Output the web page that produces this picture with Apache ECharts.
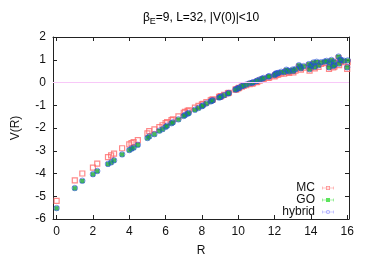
<!DOCTYPE html>
<html>
<head>
<meta charset="utf-8">
<script src="https://cdn.jsdelivr.net/npm/echarts@6/dist/echarts.min.js"></script>
<style>html,body{margin:0;padding:0;background:#fff}#c{width:374px;height:262px}</style>
</head>
<body>
<div id="c"></div>
<script>
const R = [0,1,1.414,2,2.236,2.828,3,3.162,3.606,4,
4.123,4.243,4.472,5,5.099,5.385,5.657,5.831,6,6.083,
6.325,6.403,6.708,7,7.071,7.211,7.280,7.616,7.810,8,
8.062,8.246,8.485,8.544,8.602,8.944,9,9.055,9.220,9.434,
9.487,9.849,9.899,10,10.050,10.198,10.296,10.440,10.630,10.770,
10.817,11,11.045,11.180,11.314,11.402,11.662,11.705,12,12.042,
12.083,12.166,12.207,12.369,12.530,12.649,12.728,12.806,13,13.038,
13.153,13.342,13.416,13.454,13.601,13.892,13.928,14,14.036,14.142,
14.213,14.318,14.422,14.560,14.765,14.866,15,15.033,15.133,15.232,
15.264,15.297,15.524,15.556,15.620,15.652,15.811,16,16.031];

const MC = [-5.20,-4.30,-4.00,-3.74,-3.57,-3.28,-3.20,-3.13,-2.89,-2.72,
-2.66,-2.62,-2.53,-2.24,-2.14,-2.06,-1.96,-1.88,-1.79,-1.74,
-1.65,-1.62,-1.49,-1.33,-1.29,-1.25,-1.22,-1.10,-1.03,-0.96,
-0.94,-0.86,-0.78,-0.76,-0.74,-0.63,-0.62,-0.60,-0.54,-0.47,
-0.45,-0.31,-0.30,-0.26,-0.24,-0.18,-0.15,-0.12,-0.07,-0.05,
-0.03,0.01,0.03,0.08,0.12,0.15,0.20,0.22,0.27,0.31,
0.34,0.35,0.36,0.40,0.39,0.49,0.46,0.42,0.50,0.44,
0.52,0.69,0.62,0.56,0.65,0.74,0.52,0.66,0.70,0.81,
0.62,0.84,0.69,0.82,0.85,0.88,0.60,0.81,0.92,0.66,
0.84,0.70,1.07,0.76,0.94,0.92,0.89,0.60,0.90];

const GO = [-5.53,-4.65,-4.33,-4.04,-3.90,-3.59,-3.52,-3.43,-3.17,-2.98,
-2.92,-2.87,-2.75,-2.45,-2.38,-2.28,-2.13,-2.06,-1.96,-1.91,
-1.80,-1.76,-1.63,-1.48,-1.44,-1.38,-1.35,-1.21,-1.13,-1.05,
-1.02,-0.93,-0.84,-0.81,-0.79,-0.67,-0.65,-0.63,-0.57,-0.49,
-0.47,-0.32,-0.30,-0.26,-0.24,-0.17,-0.14,-0.10,-0.04,-0.02,
0.00,0.05,0.07,0.12,0.16,0.19,0.25,0.27,0.32,0.36,
0.39,0.40,0.41,0.46,0.45,0.55,0.52,0.48,0.56,0.50,
0.58,0.75,0.68,0.62,0.71,0.80,0.58,0.72,0.76,0.87,
0.68,0.90,0.75,0.88,0.91,0.94,0.66,0.87,0.98,0.72,
0.90,0.76,1.13,0.82,1.00,0.98,0.95,0.66,0.96];

const HYBRID = [-5.52,-4.64,-4.32,-4.03,-3.89,-3.58,-3.51,-3.42,-3.16,-2.97,
-2.91,-2.86,-2.74,-2.44,-2.37,-2.27,-2.12,-2.05,-1.95,-1.90,
-1.79,-1.75,-1.62,-1.47,-1.43,-1.37,-1.34,-1.20,-1.12,-1.04,
-1.01,-0.92,-0.83,-0.80,-0.78,-0.66,-0.64,-0.62,-0.56,-0.48,
-0.46,-0.31,-0.29,-0.25,-0.23,-0.16,-0.13,-0.09,-0.03,-0.01,
0.01,0.06,0.08,0.13,0.17,0.20,0.26,0.28,0.33,0.37,
0.40,0.41,0.42,0.47,0.46,0.56,0.53,0.49,0.57,0.51,
0.59,0.76,0.69,0.63,0.72,0.81,0.59,0.73,0.77,0.88,
0.69,0.91,0.76,0.89,0.92,0.95,0.67,0.88,0.99,0.73,
0.91,0.77,1.14,0.83,1.01,0.99,0.96,0.67,0.97];

const xTicks = [0,2,4,6,8,10,12,14,16];
const yTicks = [-6,-5,-4,-3,-2,-1,0,1,2];
const seriesNames = ['MC','GO','hybrid'];

const FONT = 'Liberation Sans, Arial, sans-serif';
const pairs = (xs, ys) => xs.map((x, i) => [x, ys[i]]);

const iconMC = 'path://M0,4.5L24,4.5L24,5.5L0,5.5Z M0,2L1,2L1,8L0,8Z M23,2L24,2L24,8L23,8Z M8,1L16,1L16,9L8,9Z M9.5,2.5L9.5,7.5L14.5,7.5L14.5,2.5Z';
const iconGO = 'path://M0,4.5L24,4.5L24,5.5L0,5.5Z M0,2L1,2L1,8L0,8Z M23,2L24,2L24,8L23,8Z M8,1L16,1L16,9L8,9Z';
const iconHY = 'path://M0,4.5L24,4.5L24,5.5L0,5.5Z M0,2L1,2L1,8L0,8Z M23,2L24,2L24,8L23,8Z M12,1A4,4,0,1,1,11.99,1Z M12,2.5A2.5,2.5,0,1,0,12.01,2.5Z';

const mkLegend = (name, top, icon, color) => ({
  data: [{name: name, icon: icon, itemStyle: {color: color, borderWidth: 0}}],
  right: 40, top: top, orient: 'vertical', align: 'right',
  itemWidth: 12, itemHeight: 5, itemGap: 0, padding: 0,
  textStyle: {fontFamily: FONT, fontSize: 12, color: '#111', padding: [0, 2, 0, 0]},
  selectedMode: false
});

const axisCommon = {
  type: 'value',
  axisLine: {show: true, onZero: false, lineStyle: {color: '#222', width: 1}},
  splitLine: {show: false},
  axisTick: {inside: true, length: 4, lineStyle: {color: '#222'}}
};

const option = {
  animation: false,
  backgroundColor: '#fff',
  grid: {left: 53, right: 25, top: 37, bottom: 40},
  graphic: [{
    type: 'text', x: 201, y: 18,
    style: {
      text: '{a|β}{s|E}{a|=9, L=32, |V(0)|<10}',
      align: 'center', verticalAlign: 'middle',
      rich: {
        a: {fontFamily: FONT, fontSize: 12, color: '#111', lineHeight: 16},
        s: {fontFamily: FONT, fontSize: 9, color: '#111', lineHeight: 16, padding: [7, 0, 0, 0]}
      }
    }
  }],
  legend: [
    mkLegend('MC', 182, iconMC, '#ff7070'),
    mkLegend('GO', 194, iconGO, '#33dd33'),
    mkLegend('hybrid', 206, iconHY, '#8888ff')
  ],
  xAxis: [
    Object.assign({}, axisCommon, {
      min: -0.2, max: 16.1, position: 'bottom',
      name: 'R', nameLocation: 'middle', nameGap: 26,
      nameTextStyle: {fontFamily: FONT, fontSize: 12, color: '#111'},
      axisTick: {inside: true, length: 4, lineStyle: {color: '#222'}, customValues: xTicks},
      axisLabel: {customValues: xTicks, fontFamily: FONT, fontSize: 12, color: '#111', margin: 7}
    }),
    Object.assign({}, axisCommon, {
      min: -0.2, max: 16.1, position: 'top',
      axisTick: {inside: true, length: 4, lineStyle: {color: '#222'}, customValues: xTicks},
      axisLabel: {show: false}
    })
  ],
  yAxis: [
    Object.assign({}, axisCommon, {
      min: -6, max: 2, interval: 1, position: 'left',
      name: 'V(R)', nameLocation: 'middle', nameGap: 31, nameRotate: 90,
      nameTextStyle: {fontFamily: FONT, fontSize: 12, color: '#111'},
      axisLabel: {fontFamily: FONT, fontSize: 12, color: '#111', margin: 7,
        customValues: yTicks}
    }),
    Object.assign({}, axisCommon, {
      min: -6, max: 2, interval: 1, position: 'right',
      axisLabel: {show: false}
    })
  ],
  series: [
    {
      name: 'MC', type: 'scatter', data: pairs(R, MC),
      symbol: 'rect', symbolSize: 5,
      itemStyle: {color: 'rgba(255,255,255,0)', borderColor: '#ff6a6a', borderWidth: 1.2},
      markLine: {
        silent: true, symbol: 'none', label: {show: false},
        lineStyle: {color: '#f8c8f8', width: 1, type: 'solid'},
        data: [{yAxis: 0}]
      },
      z: 2
    },
    {
      name: 'GO', type: 'scatter', data: pairs(R, GO),
      symbol: 'rect', symbolSize: 4,
      itemStyle: {color: '#18a838', borderColor: '#18a838', borderWidth: 0.5},
      z: 3
    },
    {
      name: 'hybrid', type: 'scatter', data: pairs(R, HYBRID),
      symbol: 'circle', symbolSize: 5.5,
      itemStyle: {color: 'rgba(255,255,255,0)', borderColor: 'rgba(40,70,230,0.7)', borderWidth: 1},
      z: 4
    }
  ]
};

const chart = echarts.init(document.getElementById('c'), null, {renderer: 'canvas'});
chart.setOption(option);
</script>
</body>
</html>
